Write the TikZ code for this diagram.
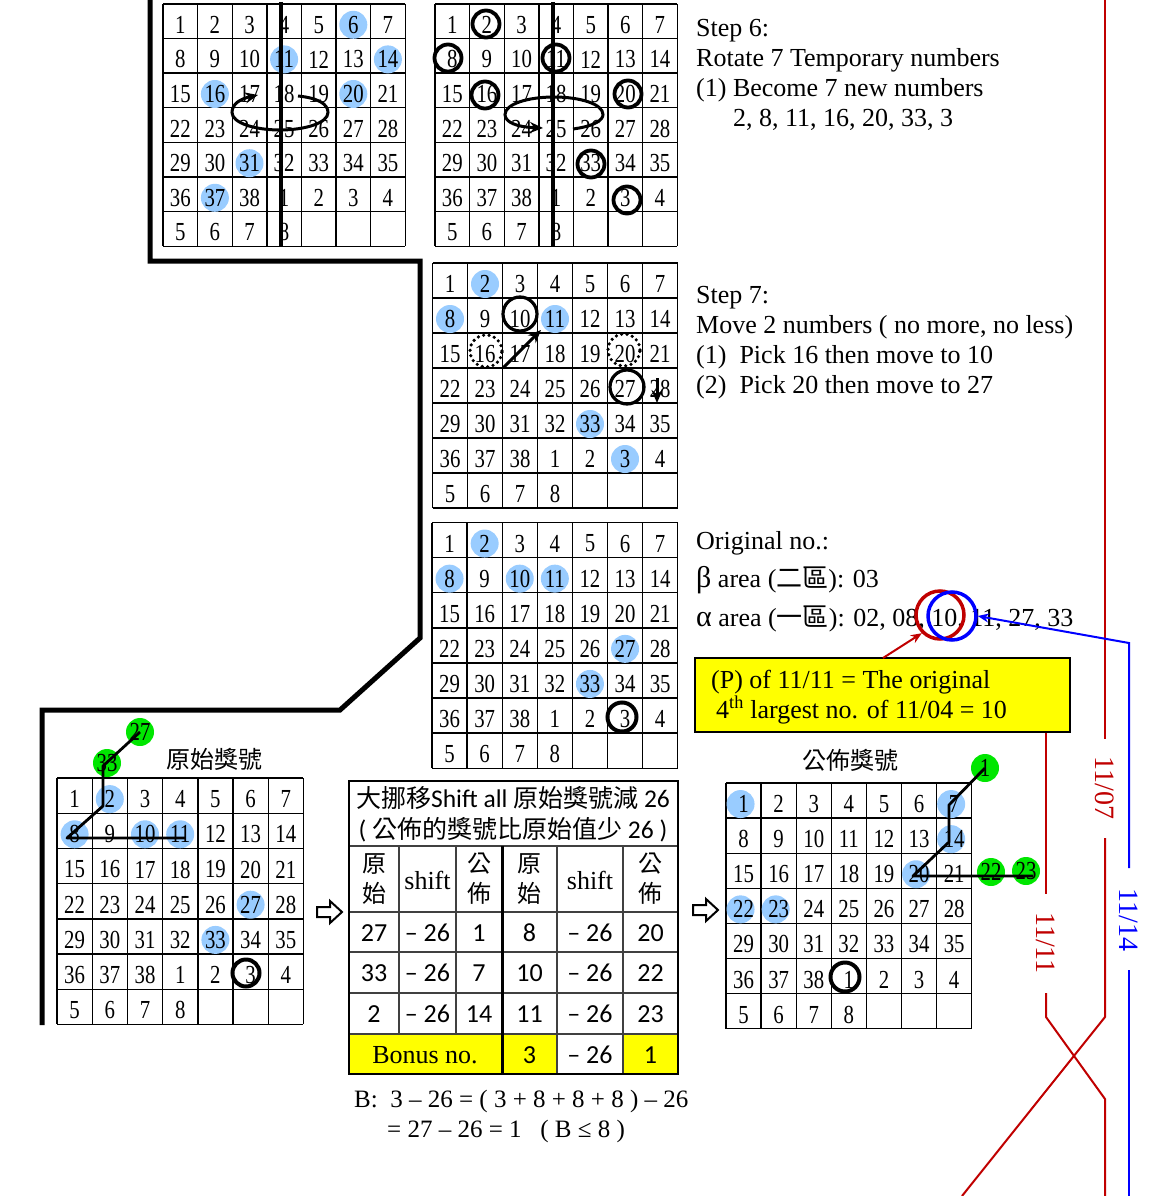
\documentclass[tikz,border=0pt]{standalone}
\usepackage{fontspec}
\setmainfont{Liberation Serif}
\newfontfamily\gridfont[FakeStretch=0.8]{Liberation Serif}
\newfontfamily\cjk{Noto Sans CJK TC}
\newfontfamily\calib{Carlito}
\usetikzlibrary{arrows.meta}
\definecolor{lblue}{RGB}{153,204,255}
\definecolor{lgreen}{RGB}{0,230,0}
\definecolor{dred}{RGB}{192,0,0}
\definecolor{pblue}{RGB}{0,0,255}
\definecolor{yel}{RGB}{255,255,0}

\newcommand\mkgrid[4]{%
  \foreach \i in {0,...,7}{%
    \draw[gridline] ({#2+\i*#4},#3) -- ({#2+\i*#4},{#3+7*#4});
    \draw[gridline] (#2,{#3+\i*#4}) -- ({#2+7*#4},{#3+\i*#4});
  }
  \foreach \r in {1,...,7}{\foreach \c in {1,...,7}{%
    \coordinate (#1-\r-\c) at ({#2+(\c-0.5)*#4},{#3+(\r-0.5)*#4+3.5});
  }}
}
\newcommand\mknums[1]{%
  \foreach \r in {1,...,7}{\foreach \c in {1,...,7}{%
    \pgfmathtruncatemacro\n{(\r-1)*7+\c}%
    \ifnum\n>38 \pgfmathtruncatemacro\n{\n-38}\ifnum\n>8 \def\n{}\fi\fi
    \node[num] (#1-n-\r-\c) at (#1-\r-\c) {\n};
  }}
}
\newcommand\hollowarrow[3]{%
  \draw[line width=2pt, line join=miter] ({#2},{#3-5}) -- ({#2+13},{#3-5}) -- ({#2+13},{#3-11}) -- ({#2+25},{#3})
   -- ({#2+13},{#3+11}) -- ({#2+13},{#3+5}) -- ({#2},{#3+5}) -- cycle;
  \coordinate (#1) at ({#2+12},{#3});
}

\begin{document}
\begin{tikzpicture}[x=1pt,y=-1pt,
  gridline/.style={line width=1.4pt},
  num/.style={font=\gridfont\fontsize{26}{26}\selectfont, inner sep=0pt},
  bdot/.style={circle, fill=lblue, minimum size=28pt, inner sep=0pt},
  gdot/.style={circle, fill=lgreen, minimum size=28pt, inner sep=0pt, font=\gridfont\fontsize{26}{26}\selectfont},
  ring/.style={circle, draw, line width=3.8pt, minimum size=27pt, inner sep=0pt},
  dring/.style={circle, draw, line width=3.6pt, dash pattern=on 0pt off 5.5pt, line cap=round, minimum size=32pt, inner sep=0pt},
  heavy/.style={line width=4pt},
  mover/.style={line width=3pt, -{Stealth[length=13pt,width=11pt]}},
  linkline/.style={line width=2.8pt},
  txt/.style={anchor=base west, inner sep=0pt, font=\fontsize{26}{30}\selectfont},
  ttl/.style={inner sep=0pt, font=\cjk\fontsize{24}{24}\selectfont},
  tline/.style={line width=1.5pt, black!75},
  tnum/.style={inner sep=0pt, font=\calib\fontsize{26}{26}\selectfont},
  tser/.style={inner sep=0pt, font=\fontsize{26}{26}\selectfont},
  tcjk/.style={inner sep=0pt, align=center, font=\cjk\fontsize{24}{30}\selectfont},
  redline/.style={dred, line width=2pt},
  blueline/.style={pblue, line width=2pt},
  vlab/.style={rotate=-90, inner sep=0pt, font=\fontsize{28}{28}\selectfont},
]
\useasboundingbox (0,0) rectangle (1151,1196);

% ---------- big separator path
\draw[line width=5pt, line join=miter] (150,0) -- (150,261) -- (420,261) -- (420,638) -- (340,710) -- (42,710) -- (42,1025);

% ---------- Grid A (top left)
\mkgrid{A}{163}{4}{34.6}
\foreach \p in {1-6,2-4,2-7,3-2,3-6,5-3,6-2} \node[bdot] (A-b\p) at (A-\p) {};
\mknums{A}
\draw[heavy] (281,2) -- (281,247);
\draw[mover] (298,96) .. controls (318,98) and (328,104) .. (328,112.5)
  .. controls (328,123) and (305,130) .. (280,130) .. controls (255,130) and (232,123) .. (232,112.5)
  .. controls (232,104) and (240,99) .. (258,95);

% ---------- Grid B (top middle)
\mkgrid{B}{435}{4}{34.6}
\mknums{B}
\draw[heavy] (553,2) -- (553,247);
\node[ring] (B-r2) at (486,24) {};
\node[ring] (B-r8) at (448,58) {};
\node[ring] (B-r11) at (556,58) {};
\node[ring] (B-r16) at (485,95) {};
\node[ring] (B-r20) at (628,94) {};
\node[ring] (B-r33) at (591,164) {};
\node[ring] (B-r3) at (627,200) {};
\draw[mover] (573,129) .. controls (595,126) and (603,120) .. (603,114.5)
  .. controls (603,104) and (580,97) .. (554,97) .. controls (528,97) and (505,104) .. (505,114.5)
  .. controls (505,122) and (516,127) .. (543,128);

% ---------- Step 6 text
\node[txt] (s6a) at (696,37) {Step 6:};
\node[txt] (s6b) at (696,67) {Rotate 7 Temporary numbers};
\node[txt] (s6c) at (696,97) {(1) Become 7 new numbers};
\node[txt] (s6d) at (733,127) {2, 8, 11, 16, 20, 33, 3};

% ---------- Grid C (step 7)
\mkgrid{C}{432.5}{263}{35}
\foreach \p in {1-2,2-1,2-4,5-5,6-6} \node[bdot] (C-b\p) at (C-\p) {};
\mknums{C}
\node[ring, line width=3.2pt, minimum size=34pt] (C-r10) at (520,314) {};
\node[ring, line width=3.2pt, minimum size=34pt] (C-r27) at (627,387) {};
\node[dring] (C-d16) at (486,351) {};
\node[dring] (C-d20) at (624,350) {};
\coordinate (C-a1s) at (503,368);
\coordinate (C-a1e) at (541,330);
\coordinate (C-a2s) at (657,378);
\coordinate (C-a2e) at (657,403);
\draw[mover] (C-a1s) -- (C-a1e);
\draw[mover] (C-a2s) -- (C-a2e);

\node[txt] (s7a) at (696,303) {Step 7:};
\node[txt] (s7b) at (696,333) {Move 2 numbers ( no more, no less)};
\node[txt] (s7c) at (696,363) {(1)\ \ Pick 16 then move to 10};
\node[txt] (s7d) at (696,393) {(2)\ \ Pick 20 then move to 27};

% ---------- Grid D (original no.)
\mkgrid{D}{432}{522.5}{35.1}
\foreach \p in {1-2,2-1,2-3,2-4,4-6,5-5} \node[bdot] (D-b\p) at (D-\p) {};
\mknums{D}
\node[ring, line width=4pt, minimum size=29pt] (D-r3) at (622,717) {};

\node[txt] (oa) at (696,549) {Original no.:};
\node[txt] (ob) at (696,587) {{\fontsize{30}{30}\selectfont β} area ({\cjk 二區}): 03};
\node[txt] (oc) at (696,626) {{\fontsize{30}{30}\selectfont α} area ({\cjk 一區}): 02, 08, 10, 11, 27, 33};

\node[circle, draw=dred, line width=3.5pt, minimum size=48pt, inner sep=0pt] (rc) at (940,615) {};
\node[circle, draw=pblue, line width=3.5pt, minimum size=48pt, inner sep=0pt] (bc) at (952,616) {};

% yellow box
\node[draw, line width=2pt, fill=yel, minimum width=375pt, minimum height=74pt, inner sep=0pt] (yb) at (882.5,695) {};
\node[txt] (y1) at (711,688) {(P) of 11/11 = The original};
\node[txt] (y2) at (716,718) {4\textsuperscript{th} largest no. of 11/04 = 10};
\coordinate (ra) at (883,658);
\draw[dred, line width=2pt, -{Stealth[length=11pt,width=9pt]}] (ra) -- (rc.south west);

% ---------- Grid E (bottom left)
\mkgrid{E}{57}{778}{35.2}
\foreach \p in {1-2,2-1,2-3,2-4,4-6,5-5} \node[bdot] (E-b\p) at (E-\p) {};
\mknums{E}
\node[ring, line width=4pt, minimum size=27pt] (E-r3) at (246,973) {};
\node[gdot] (E-g27) at (140,732) {27};
\node[gdot] (E-g33) at (107,763) {33};
\coordinate (E-k1) at (103,766);
\coordinate (E-k2) at (103,806);
\coordinate (E-k3) at (67,838);
\coordinate (E-k4) at (185,838);
\draw[linkline, line join=round] (E-g27.center) -- (E-k1) -- (E-k2) -- (E-k3) -- (E-k4);
\node[ttl] (E-title) at (214,759) {原始獎號};

\hollowarrow{arr1}{317}{912}

% ---------- Table
\fill[yel] (349,1034) rectangle (557,1074);
\fill[yel] (623,1034) rectangle (678,1074);
\draw[tline] (349,846) -- (678,846);
\draw[tline] (349,912) -- (678,912);
\draw[tline] (349,952) -- (678,952);
\draw[tline] (349,993) -- (678,993);
\draw[tline] (349,1034) -- (678,1034);
\draw[tline] (399,846) -- (399,1034);
\draw[tline] (456,846) -- (456,1034);
\draw[tline] (557,846) -- (557,1074);
\draw[tline] (623,846) -- (623,1074);
\draw[line width=3pt] (502,846) -- (502,1074);
\draw[line width=2.5pt] (349,781) rectangle (678,1074);

\node[inner sep=0pt, font=\calib\fontsize{25.5}{25.5}\selectfont] (th1) at (513,798)
  {{\cjk\fontsize{25}{25}\selectfont 大挪移}Shift all {\cjk\fontsize{25}{25}\selectfont 原始獎號減} 26};
\node[inner sep=0pt, font=\calib\fontsize{25.5}{25.5}\selectfont] (th2) at (513,830)
  {( {\cjk\fontsize{25}{25}\selectfont 公佈的獎號比原始值少} 26 )};
\node[tcjk] (h1) at (374,879) {原\\始};
\node[tser] (h2) at (427.5,880) {shift};
\node[tcjk] (h3) at (479,879) {公\\佈};
\node[tcjk] (h4) at (529.5,879) {原\\始};
\node[tser] (h5) at (590,880) {shift};
\node[tcjk] (h6) at (650.5,879) {公\\佈};

\node[tnum] (r11) at (374,933) {27};
\node[tnum] (r12) at (427.5,933) {– 26};
\node[tnum] (r13) at (479,933) {1};
\node[tnum] (r14) at (529.5,933) {8};
\node[tnum] (r15) at (590,933) {– 26};
\node[tnum] (r16) at (650.5,933) {20};
\node[tnum] (r21) at (374,973) {33};
\node[tnum] (r22) at (427.5,973) {– 26};
\node[tnum] (r23) at (479,973) {7};
\node[tnum] (r24) at (529.5,973) {10};
\node[tnum] (r25) at (590,973) {– 26};
\node[tnum] (r26) at (650.5,973) {22};
\node[tnum] (r31) at (374,1014) {2};
\node[tnum] (r32) at (427.5,1014) {– 26};
\node[tnum] (r33) at (479,1014) {14};
\node[tnum] (r34) at (529.5,1014) {11};
\node[tnum] (r35) at (590,1014) {– 26};
\node[tnum] (r36) at (650.5,1014) {23};
\node[tser] (bn) at (425,1055) {Bonus no.};
\node[tnum] (b4) at (529.5,1055) {3};
\node[tnum] (b5) at (590,1055) {– 26};
\node[tnum] (b6) at (650.5,1055) {1};

\node[txt, font=\fontsize{25}{30}\selectfont] (bl1) at (354,1107) {B:\ \ 3 – 26 = ( 3 + 8 + 8 + 8 ) – 26};
\node[txt, font=\fontsize{25}{30}\selectfont] (bl2) at (387,1137) {= 27 – 26 = 1\ \ \ ( B ≤ 8 )};

\hollowarrow{arr2}{693}{910}

% ---------- Grid F (bottom right)
\mkgrid{F}{726}{783}{35.1}
\foreach \p in {1-1,1-7,2-7,3-6,4-1,4-2} \node[bdot, xshift=-3pt] (F-b\p) at (F-\p) {};
\mknums{F}
\node[ring, line width=4pt, minimum size=29pt] (F-r1) at (845,977) {};
\node[gdot] (F-g1) at (985,768) {1};
\node[gdot] (F-g22) at (991,872) {22};
\node[gdot] (F-g23) at (1026,871) {23};
\coordinate (F-k1) at (949,805);
\coordinate (F-k2) at (949,842);
\coordinate (F-k3) at (913,876);
\coordinate (F-k4) at (1033,876);
\draw[linkline, line join=round] (F-g1.center) -- (F-k1) -- (F-k2) -- (F-k3) -- (F-k4);
\node[ttl] (F-title) at (850,760) {公佈獎號};

% ---------- right side date lines
\coordinate (p1) at (1105,0);
\coordinate (p2) at (1105,739);
\node[vlab, text=dred] (l07) at (1105,788) {11/07};
\coordinate (p3) at (1105,838);
\coordinate (p4) at (1105,1017);
\coordinate (p5) at (962,1196);
\draw[redline] (p1) -- (p2);
\draw[redline] (p3) -- (p4) -- (p5);

\coordinate (q1) at (1046,733);
\coordinate (q2) at (1046,894);
\node[vlab, text=dred] (l11) at (1046,943) {11/11};
\coordinate (q3) at (1046,993);
\coordinate (q4) at (1046,1017);
\coordinate (q5) at (1105,1099);
\coordinate (q6) at (1105,1196);
\draw[redline] (q1) -- (q2);
\draw[redline] (q3) -- (q4) -- (q5) -- (q6);

\coordinate (u1) at (1129,868);
\coordinate (u2) at (1129,643);
\node[vlab, text=pblue] (l14) at (1129,920) {11/14};
\coordinate (u3) at (1129,970);
\coordinate (u4) at (1129,1196);
\draw[blueline, -{Stealth[length=11pt,width=9pt]}] (u1) -- (u2) -- (bc.east);
\draw[blueline] (u3) -- (u4);
\end{tikzpicture}
\end{document}
